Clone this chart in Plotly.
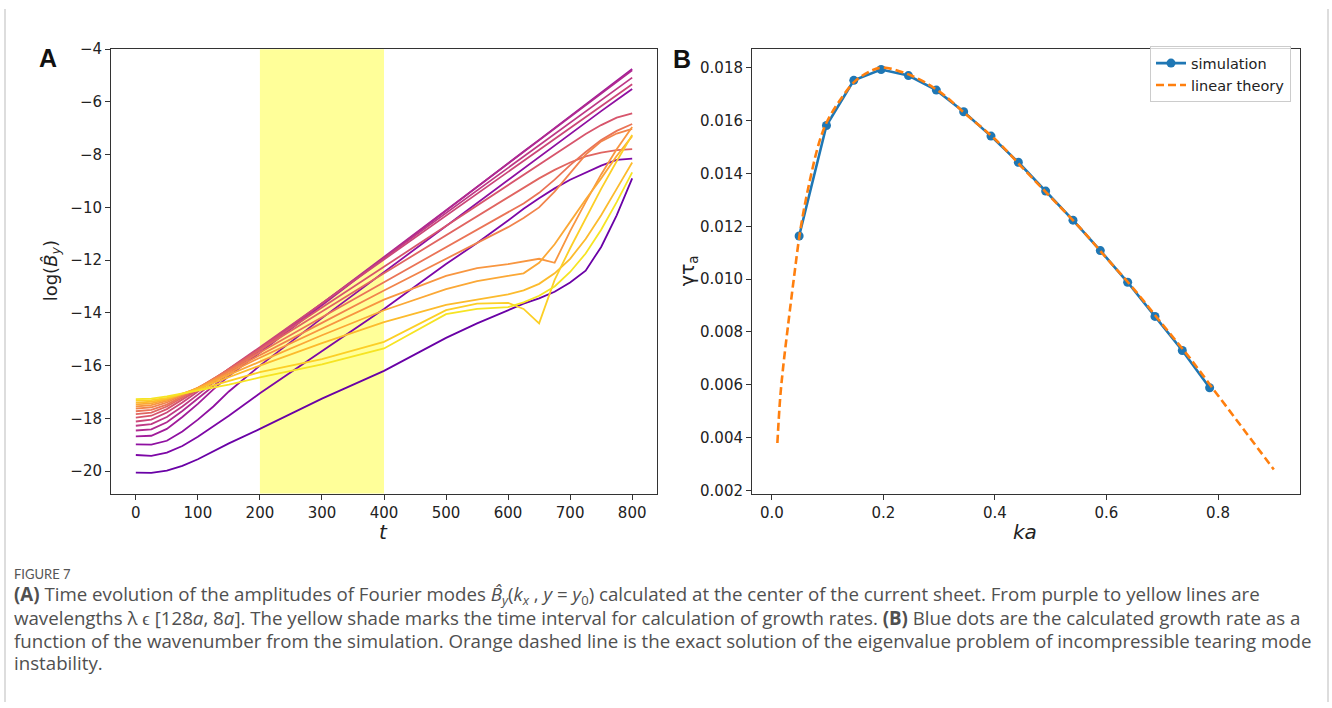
import plotly.graph_objects as go
from plotly.colors import sample_colorscale

# ---------------- Panel A data: log(B_y) vs t for 16 Fourier modes ----------------
t_grid = [0, 25, 50, 75, 100, 125, 150, 200, 300, 400, 500, 550, 600, 625, 650, 675, 700, 725, 750, 775, 800]

by_k01 = [-20.06, -20.07, -19.98, -19.80, -19.55, -19.25, -18.95, -18.40, -17.25, -16.20, -14.95, -14.40, -13.90, -13.65, -13.45, -13.20, -12.85, -12.40, -11.50, -10.30, -8.90]
by_k02 = [-19.39, -19.42, -19.30, -19.05, -18.70, -18.30, -17.90, -17.05, -15.45, -13.85, -12.15, -11.35, -10.50, -10.05, -9.65, -9.28, -8.95, -8.68, -8.42, -8.20, -8.15]
by_k03 = [-18.99, -19.00, -18.85, -18.50, -18.05, -17.55, -16.98, -16.00, -14.20, -12.45, -10.70, -9.83, -8.95, -8.51, -8.07, -7.63, -7.20, -6.77, -6.35, -5.93, -5.51]
by_k04 = [-18.68, -18.66, -18.40, -17.95, -17.45, -16.90, -16.40, -15.50, -13.70, -11.90, -10.10, -9.20, -8.33, -7.88, -7.44, -6.99, -6.54, -6.10, -5.65, -5.20, -4.75]
by_k05 = [-18.46, -18.42, -18.15, -17.72, -17.25, -16.78, -16.30, -15.42, -13.65, -11.88, -10.10, -9.22, -8.34, -7.90, -7.46, -7.01, -6.57, -6.13, -5.69, -5.25, -4.80]
by_k06 = [-18.28, -18.22, -17.95, -17.55, -17.10, -16.65, -16.20, -15.35, -13.64, -11.93, -10.22, -9.37, -8.51, -8.08, -7.66, -7.23, -6.80, -6.37, -5.94, -5.52, -5.08]
by_k07 = [-18.12, -18.05, -17.78, -17.40, -16.98, -16.55, -16.12, -15.30, -13.64, -11.98, -10.32, -9.48, -8.65, -8.24, -7.82, -7.41, -6.99, -6.58, -6.16, -5.75, -5.33]
by_k08 = [-17.97, -17.90, -17.65, -17.30, -16.92, -16.52, -16.12, -15.35, -13.80, -12.25, -10.70, -9.93, -9.15, -8.77, -8.38, -8.00, -7.60, -7.22, -6.88, -6.60, -6.44]
by_k09 = [-17.84, -17.78, -17.55, -17.22, -16.88, -16.50, -16.14, -15.40, -13.95, -12.50, -11.05, -10.33, -9.60, -9.25, -8.90, -8.58, -8.30, -8.07, -7.92, -7.83, -7.79]
by_k10 = [-17.73, -17.68, -17.48, -17.18, -16.85, -16.50, -16.16, -15.50, -14.17, -12.85, -11.50, -10.85, -10.20, -9.85, -9.45, -8.95, -8.40, -7.90, -7.45, -7.10, -6.84]
by_k11 = [-17.63, -17.58, -17.40, -17.13, -16.84, -16.52, -16.21, -15.60, -14.38, -13.15, -11.95, -11.35, -10.75, -10.40, -10.00, -9.40, -8.70, -8.00, -7.50, -7.20, -7.02]
by_k12 = [-17.55, -17.50, -17.34, -17.10, -16.84, -16.55, -16.28, -15.70, -14.60, -13.50, -12.60, -12.30, -12.15, -12.05, -11.95, -12.10, -10.90, -9.80, -8.75, -7.80, -6.95]
by_k13 = [-17.47, -17.43, -17.29, -17.08, -16.85, -16.60, -16.36, -15.85, -14.85, -13.90, -13.10, -12.80, -12.60, -12.50, -12.10, -11.40, -10.55, -9.70, -8.90, -8.05, -7.30]
by_k14 = [-17.40, -17.37, -17.25, -17.07, -16.87, -16.66, -16.45, -16.00, -15.15, -14.35, -13.70, -13.50, -13.30, -13.15, -12.90, -12.50, -11.95, -11.20, -10.30, -9.30, -8.30]
by_k15 = [-17.33, -17.31, -17.22, -17.08, -16.92, -16.75, -16.58, -16.25, -15.75, -15.10, -13.90, -13.65, -13.62, -13.85, -14.40, -12.75, -11.55, -10.40, -9.30, -8.25, -7.25]
by_k16 = [-17.27, -17.25, -17.17, -17.06, -16.95, -16.83, -16.72, -16.45, -15.95, -15.35, -14.05, -13.85, -13.78, -13.60, -13.35, -13.00, -12.45, -11.75, -10.85, -9.80, -8.67]

modes = [by_k01, by_k02, by_k03, by_k04, by_k05, by_k06, by_k07, by_k08,
         by_k09, by_k10, by_k11, by_k12, by_k13, by_k14, by_k15, by_k16]

shade_t = [200, 400]
xticks_a = [0, 100, 200, 300, 400, 500, 600, 700, 800]
yticks_a = [-20, -18, -16, -14, -12, -10, -8, -6, -4]

# ---------------- Panel B data: growth rate vs ka ----------------
ka_sim = [0.049, 0.098, 0.147, 0.196, 0.245, 0.295, 0.344, 0.393, 0.442, 0.491, 0.540, 0.589, 0.638, 0.687, 0.736, 0.785]
gamma_sim = [0.01163, 0.01581, 0.01752, 0.01793, 0.01770, 0.01715, 0.01633, 0.01541, 0.01442, 0.01333, 0.01223, 0.01108, 0.00988, 0.00859, 0.00730, 0.00589]

ka_theory = [0.01, 0.015, 0.02, 0.03, 0.04, 0.05, 0.06, 0.07, 0.08, 0.09, 0.10, 0.12, 0.15, 0.18, 0.20,
             0.25, 0.30, 0.35, 0.40, 0.45, 0.50, 0.55, 0.60, 0.65, 0.70, 0.75, 0.80, 0.85, 0.90]
gamma_theory = [0.0038, 0.0055, 0.0066, 0.0084, 0.0101, 0.0117, 0.0129, 0.0139, 0.0148, 0.0155, 0.0160, 0.0167, 0.0175, 0.0179, 0.0180,
                0.0177, 0.0171, 0.0162, 0.0153, 0.0142, 0.0131, 0.0120, 0.0108, 0.0096, 0.0083, 0.0070, 0.0056, 0.0042, 0.0028]

xticks_b = [0.0, 0.2, 0.4, 0.6, 0.8]
yticks_b = [0.002, 0.004, 0.006, 0.008, 0.010, 0.012, 0.014, 0.016, 0.018]

# ---------------- Figure ----------------
W, H = 1332, 708
def px_x(p):
    return p / W
def px_y(p):
    return 1 - p / H

fig = go.Figure()

n = len(modes)
cols = sample_colorscale('Plasma', [0.2 + 0.75 * i / (n - 1) for i in range(n)])
for i, yv in enumerate(modes):
    fig.add_trace(go.Scatter(x=t_grid, y=yv, mode='lines', line=dict(color=cols[i], width=1.8),
                             showlegend=False, xaxis='x', yaxis='y', hoverinfo='skip'))

fig.add_trace(go.Scatter(x=ka_sim, y=gamma_sim, mode='lines+markers', name='simulation',
                         line=dict(color='#1f77b4', width=2.6), marker=dict(size=9, color='#1f77b4'),
                         xaxis='x2', yaxis='y2'))
fig.add_trace(go.Scatter(x=ka_theory, y=gamma_theory, mode='lines', name='linear theory',
                         line=dict(color='#ff7f0e', width=2.6, dash='8px,4px', shape='spline'),
                         xaxis='x2', yaxis='y2'))

fig.add_shape(type='rect', xref='x', yref='y domain', x0=shade_t[0], x1=shade_t[1], y0=0, y1=1,
              fillcolor='rgba(255,255,0,0.4)', line=dict(width=0), layer='below')

axis_common = dict(showline=True, mirror=True, linecolor='#333', linewidth=1, ticks='outside',
                   ticklen=5, tickwidth=1, tickcolor='#333', showgrid=False, zeroline=False,
                   tickfont=dict(family='DejaVu Sans', size=15, color='#222'))

ydom = [px_y(495), px_y(41)]
fig.update_layout(
    width=W, height=H, margin=dict(l=0, r=0, t=0, b=0),
    paper_bgcolor='white', plot_bgcolor='white',
    xaxis=dict(domain=[px_x(111), px_x(657)], range=[-40, 840], tickvals=xticks_a, anchor='y', **axis_common),
    yaxis=dict(domain=ydom, range=[-20.85, -4], tickvals=yticks_a, anchor='x', **axis_common),
    xaxis2=dict(domain=[px_x(752), px_x(1300)], range=[-0.0355, 0.947], tickvals=xticks_b, tickformat='.1f', anchor='y2', **axis_common),
    yaxis2=dict(domain=ydom, range=[0.00189, 0.0187], tickvals=yticks_b, tickformat='.3f', anchor='x2', **axis_common),
    legend=dict(x=px_x(1291), y=px_y(38), xanchor='right', yanchor='top', bgcolor='rgba(255,255,255,0.8)',
                bordercolor='#ccc', borderwidth=1, font=dict(family='DejaVu Sans', size=14.5, color='#222'),
                tracegroupgap=0),
    showlegend=True,
)

ann = []
def add_text(x, y, text, size, family='DejaVu Sans', color='#222', xanchor='center', yanchor='middle', angle=0):
    ann.append(dict(x=px_x(x), y=px_y(y), xref='paper', yref='paper', text=text, showarrow=False,
                    font=dict(family=family, size=size, color=color), xanchor=xanchor, yanchor=yanchor,
                    textangle=angle))

add_text(47.5, 50, '<b>A</b>', 25, family='Liberation Sans', color='#111')
add_text(682, 51, '<b>B</b>', 25, family='Liberation Sans', color='#111')
add_text(52, 268, 'log(<i>B\u0302</i><sub><i>y</i></sub>)', 18, angle=-90)
add_text(383, 534, '<i>t</i>', 20)
add_text(1025, 534, '<i>ka</i>', 20)
add_text(688, 268, '\u03b3\u03c4<sub>a</sub>', 19, angle=-90)

cap_font = 'Open Sans'
cap_col = '#505050'
add_text(12, 577, 'FIGURE 7', 13, family='Lato', color='#555', xanchor='left')
cap_lines = [
    '<b>(A)</b> Time evolution of the amplitudes of Fourier modes <i>B\u0302</i><sub><i>y</i></sub>(<i>k</i><sub><i>x</i></sub> , <i>y</i> = <i>y</i><sub>0</sub>) calculated at the center of the current sheet. From purple to yellow lines are',
    'wavelengths \u03bb \u03f5 [128<i>a</i>, 8<i>a</i>]. The yellow shade marks the time interval for calculation of growth rates. <b>(B)</b> Blue dots are the calculated growth rate as a',
    'function of the wavenumber from the simulation. Orange dashed line is the exact solution of the eigenvalue problem of incompressible tearing mode',
    'instability.',
]
for i, line in enumerate(cap_lines):
    add_text(12, 599 + 23 * i, line, 18.7, family=cap_font, color=cap_col, xanchor='left')

fig.update_layout(annotations=ann)

# outer frame lines
for xp in (5, 1328):
    fig.add_shape(type='line', xref='paper', yref='paper', x0=px_x(xp), x1=px_x(xp), y0=0, y1=1,
                  line=dict(color='#bbb', width=1))

fig.write_html('out.html')
